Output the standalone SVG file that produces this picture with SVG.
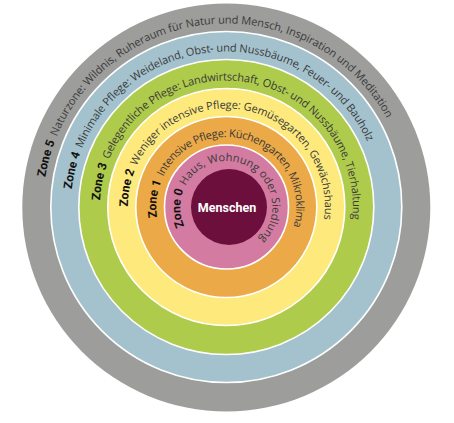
<svg xmlns="http://www.w3.org/2000/svg" xmlns:xlink="http://www.w3.org/1999/xlink" width="454" height="423" viewBox="0 0 454 423">
<style>
.ring{stroke:#ffffff;stroke-width:1.6}
.desc{font-family:"Open Sans","DejaVu Sans",sans-serif;font-size:11px;fill:#3a3a3a}
.zone{font-family:Roboto,"Liberation Sans",sans-serif;font-size:12px;font-weight:700;fill:#111111}
.center{font-family:Roboto,"Liberation Sans",sans-serif;font-size:12.5px;font-weight:700;fill:#ffffff}
</style>
<defs>
<path id="p5" d="M226.3,390.5 A183.5,183.5 0 1 1 226.3,23.5 A183.5,183.5 0 1 1 226.3,390.5"/>
<path id="p4" d="M226.3,362.5 A155.5,155.5 0 1 1 226.3,51.5 A155.5,155.5 0 1 1 226.3,362.5"/>
<path id="p3" d="M226.3,333.5 A126.5,126.5 0 1 1 226.3,80.5 A126.5,126.5 0 1 1 226.3,333.5"/>
<path id="p2" d="M226.3,305.5 A98.5,98.5 0 1 1 226.3,108.5 A98.5,98.5 0 1 1 226.3,305.5"/>
<path id="p1" d="M226.3,277 A70,70 0 1 1 226.3,137 A70,70 0 1 1 226.3,277"/>
<path id="p0" d="M226.3,253 A46,46 0 1 1 226.3,161 A46,46 0 1 1 226.3,253"/>
</defs>
<g id="zone5">
<circle cx="226.3" cy="207.5" r="204" fill="#9d9d9b"/>
<text class="zone"><textPath xlink:href="#p5" href="#p5" startOffset="355" text-anchor="end">Zone 5</textPath></text>
<text class="desc"><textPath xlink:href="#p5" href="#p5" startOffset="360.3" textLength="411.5" lengthAdjust="spacing">Naturzone: Wildnis, Ruheraum für Natur und Mensch, Inspiration und Meditation</textPath></text>
</g>
<g id="zone4">
<circle class="ring" cx="226.3" cy="207" r="175.5" fill="#a4c2ce"/>
<text class="zone"><textPath xlink:href="#p4" href="#p4" startOffset="299" text-anchor="end">Zone 4</textPath></text>
<text class="desc"><textPath xlink:href="#p4" href="#p4" startOffset="304" textLength="361" lengthAdjust="spacing">Minimale Pflege: Weideland, Obst- und Nussbäume, Feuer- und Bauholz</textPath></text>
</g>
<g id="zone3">
<circle class="ring" cx="226.3" cy="207" r="147.5" fill="#aecb4c"/>
<text class="zone"><textPath xlink:href="#p3" href="#p3" startOffset="242.3" text-anchor="end">Zone 3</textPath></text>
<text class="desc"><textPath xlink:href="#p3" href="#p3" startOffset="247.3" textLength="361" lengthAdjust="spacing">Gelegentliche Pflege: Landwirtschaft, Obst- und Nussbäume, Tierhaltung</textPath></text>
</g>
<g id="zone2">
<circle class="ring" cx="226.3" cy="207" r="118.5" fill="#fde97c"/>
<text class="zone"><textPath xlink:href="#p2" href="#p2" startOffset="191.8" text-anchor="end">Zone 2</textPath></text>
<text class="desc"><textPath xlink:href="#p2" href="#p2" startOffset="196.8" textLength="279.4" lengthAdjust="spacing">Weniger intensive Pflege: Gemüsegarten, Gewächshaus</textPath></text>
</g>
<g id="zone1">
<circle class="ring" cx="226.3" cy="207" r="90.5" fill="#eba947"/>
<text class="zone"><textPath xlink:href="#p1" href="#p1" startOffset="136.1" text-anchor="end">Zone 1</textPath></text>
<text class="desc"><textPath xlink:href="#p1" href="#p1" startOffset="141.1" textLength="208.3" lengthAdjust="spacing">Intensive Pflege: Küchengarten, Mikroklima</textPath></text>
</g>
<g id="zone0">
<circle class="ring" cx="226.5" cy="207" r="62" fill="#d37ba1"/>
<text class="zone"><textPath xlink:href="#p0" href="#p0" startOffset="89.5" text-anchor="end">Zone 0</textPath></text>
<text class="desc"><textPath xlink:href="#p0" href="#p0" startOffset="93.9" textLength="158.2" lengthAdjust="spacing">Haus, Wohnung oder Siedlung</textPath></text>
</g>
<g id="menschen">
<circle cx="229" cy="207" r="38" fill="#6c0f3c"/>
<text class="center" x="227" y="212" text-anchor="middle">Menschen</text>
</g>
</svg>
